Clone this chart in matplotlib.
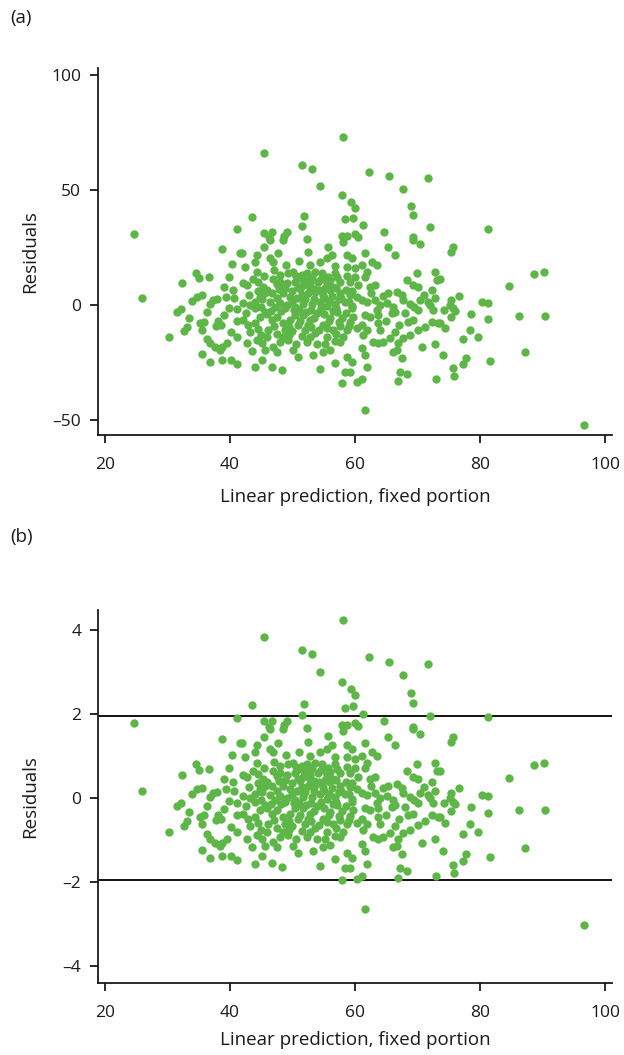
import matplotlib
matplotlib.use("Agg")
import matplotlib.pyplot as plt

plt.rcParams['font.family'] = ['Open Sans', 'DejaVu Sans']

# Linear prediction (fixed portion) and raw residuals
pred = [
 24.6, 26.0, 30.2, 41.1, 38.8, 41.6, 40.4, 34.6, 35.0, 36.7, 39.8, 32.4,
 33.9, 34.8, 35.5, 31.6, 32.2, 33.5, 33.2, 32.7, 36.4, 37.3, 37.9, 39.3, 40.7, 39.9, 41.1, 36.8,
 35.2, 35.8, 35.6, 38.1, 37.8, 38.5, 36.3, 36.8, 37.6, 38.8, 39.5, 40.1, 41.2, 41.1,
 38.4, 35.6, 36.8, 38.7, 40.2, 41.1,
 45.4, 51.6, 53.2, 54.4, 43.6, 51.9, 51.5, 45.4, 46.8, 46.3, 49.1, 48.7, 52.4,
 58.1, 62.3, 65.4, 71.7, 67.6, 58.0, 59.4, 60.0, 69.0, 69.3, 58.4, 59.7, 61.3, 72.0, 64.7,
 57.9, 58.8, 60.0, 60.5, 69.3, 81.2, 75.7, 75.3,
 73.6, 88.7, 90.2, 84.7, 76.6, 75.4, 75.2, 74.3, 76.0, 75.3, 75.7, 80.3, 81.3, 78.5, 81.3,
 86.2, 90.4, 73.6, 74.4, 78.4, 79.6, 77.2, 87.2, 74.0, 77.8, 77.2, 81.6, 75.6, 75.8, 96.6,
 46.4, 48.5, 41.9, 45.4, 44.3, 46.4, 46.9, 47.7, 42.4, 44.0, 44.3, 43.7, 42.1, 42.7, 45.3,
 45.9, 46.9, 48.0, 49.3, 50.1, 49.1, 50.4, 50.9, 42.1, 43.2, 44.8, 45.6, 46.4, 47.5, 47.2,
 48.5, 49.6, 50.7, 49.1, 50.4,
 52.5, 55.7, 58.1, 58.7, 59.5, 54.4, 55.5, 56.3, 52.8, 58.7, 60.0, 51.5, 52.3, 53.6, 54.7,
 55.7, 56.8, 51.7, 52.8, 54.1, 55.5, 56.5, 57.6, 59.2, 60.0, 60.5,
 51.5, 52.5, 53.6, 54.9, 56.3, 57.6, 59.2, 60.3, 51.7, 53.1, 54.4, 55.5, 56.8, 58.4, 59.5,
 69.3, 70.4, 65.3, 66.4, 61.6, 62.7, 63.5, 61.1, 61.9, 61.6, 69.9, 72.8, 68.3, 69.3, 70.1,
 73.1, 62.4, 63.2, 72.3, 65.3, 66.7, 67.5, 61.1, 61.9, 63.2, 64.0, 65.1, 66.1, 67.7, 68.8,
 70.4, 71.7, 72.8, 72.0,
 42.1, 42.9, 44.0, 44.8, 45.6, 46.7, 47.5, 48.5, 49.6, 50.4, 50.9, 42.7, 44.3, 45.1, 45.6,
 46.9, 47.5, 48.0, 48.5, 49.3, 50.1, 50.9, 45.1, 46.7, 48.3, 43.2, 46.1, 48.8,
 51.7, 52.8, 53.9, 54.9, 56.0, 57.1, 52.0, 53.6, 56.5, 57.6, 59.7, 60.3, 57.6, 58.1, 58.7,
 53.3, 54.9, 54.4, 56.8, 58.7, 59.5, 58.4, 59.2, 57.9, 60.3, 52.3,
 61.6, 62.4, 63.7, 63.7, 65.9, 66.4, 68.0, 70.1, 72.5, 61.1, 61.9, 61.3, 62.9, 63.7, 64.5,
 64.0, 65.6, 66.4, 66.9, 67.7, 68.8, 68.5, 69.3, 71.2, 72.3, 73.3, 61.6, 61.1, 66.1, 66.7,
 67.5, 70.7, 72.8, 61.9, 67.2, 68.3, 66.9, 61.1, 73.0, 61.6,
 47.8, 50.0, 52.0, 53.0, 54.5, 55.0, 56.0, 57.0, 48.2, 49.5, 51.0, 52.5, 53.5, 55.8, 57.5,
 58.5, 46.0, 44.0, 43.0, 50.8, 53.0, 49.0, 51.0, 47.0, 56.8, 57.5, 45.0, 47.5, 51.5, 55.5,
 54.0, 56.0, 58.5, 59.5, 62.5, 64.5, 63.5, 65.0, 67.0, 70.0, 71.0, 69.5, 42.5, 43.5, 44.0,
 39.0, 40.5, 39.0,
 44.5, 45.5, 47.5, 48.0, 50.5, 51.8, 53.2, 54.6, 56.0, 57.2, 58.8,
 44.5, 46.8, 48.8, 51.2, 52.8, 54.2, 55.2, 57.0, 59.5,
 44.0, 45.2, 48.0, 50.0, 51.5, 53.5, 55.8, 57.8, 59.0,
 45.0, 46.5, 48.8, 50.2, 52.2, 53.5, 55.0, 56.5, 58.0, 59.2,
 44.5, 47.0, 50.0, 51.2, 53.0, 54.2, 55.5, 57.0, 59.0,
 46.0, 49.5, 52.8, 56.8, 50.5, 55.2,
]

resid = [
 30.7, 3.0, -14.1, 32.9, 24.2, 22.7, 17.8, 14.1, 11.6, 12.0, 12.2, 9.4,
 1.6, 3.6, 4.2, -3.2, -1.9, -5.8, -9.4, -11.4, -3.2, 2.2, 2.5, 3.6, 2.9, -1.2, -1.9, 0.3,
 -8.0, -7.2, -10.9, -6.8, -9.0, -8.7, -14.8, -16.7, -18.4, -18.4, -16.7, -11.9, -6.8, -14.1,
 -19.6, -21.3, -24.9, -23.9, -23.9, -25.7,
 66.2, 60.7, 59.3, 51.9, 38.1, 38.7, 34.3, 31.5, 31.7, 29.4, 31.7, 30.0, 28.8,
 73.2, 58.0, 56.1, 55.1, 50.4, 47.8, 44.8, 42.3, 43.0, 39.0, 37.2, 38.0, 34.6, 33.8, 31.6,
 30.1, 30.1, 30.9, 29.7, 29.4, 33.2, 25.2, 22.9,
 11.3, 13.5, 14.3, 8.4, 3.9, 2.2, 0.0, -2.2, -2.5, -5.4, -1.5, 1.4, 0.7, -3.9, -6.1,
 -4.8, -4.8, -8.0, -10.1, -10.9, -14.1, -14.9, -20.4, -21.9, -22.9, -25.8, -24.3, -27.5, -31.0, -52.2,
 28.3, 28.3, 22.7, 25.1, 21.7, 20.3, 18.8, 22.7, 16.7, 18.8, 14.5, 11.2, 9.4, 8.7, 8.0,
 6.5, 11.2, 10.1, 13.8, 14.5, 9.4, 10.1, 8.0, 0.7, 0.0, 3.6, 5.1, 1.4, 2.9, -0.7,
 5.1, 3.6, 2.9, 0.0, -0.7,
 23.2, 25.3, 27.5, 21.7, 20.3, 18.8, 20.3, 21.7, 17.4, 16.7, 16.0, 13.0, 13.8, 14.5, 13.8,
 12.3, 13.8, 8.7, 9.4, 10.1, 9.4, 8.0, 10.1, 10.1, 12.3, 8.7,
 4.5, 5.0, 5.5, 4.5, 4.0, 5.0, 4.5, 3.5, 0.5, 0.5, 1.5, -0.5, 0.5, 1.5, -0.5,
 28.3, 26.5, 25.1, 21.7, 22.5, 18.8, 17.4, 17.4, 14.5, 12.3, 13.8, 14.5, 10.9, 8.7, 8.0,
 10.9, 8.0, 8.7, 6.5, 5.1, 5.8, 4.3, 2.2, 1.4, 2.0, 0.0, 1.0, -1.0, 2.0, 0.5,
 2.2, 1.4, 2.9, 0.0,
 -6.5, -8.7, -8.0, -5.1, -2.9, -6.5, -5.1, -8.0, -6.5, -4.3, -8.7, -16.7, -15.2, -16.7, -19.6,
 -18.1, -20.3, -16.0, -13.8, -15.2, -19.6, -22.5, -23.9, -26.8, -28.3, -11.7, -10.9, -10.9,
 -4.3, -6.5, -3.5, -8.7, -5.7, -3.0, -10.9, -12.2, -10.9, -9.1, -5.1, -10.1, -16.0, -13.8, -10.9,
 -21.7, -20.3, -28.0, -25.3, -22.5, -24.7, -29.0, -29.0, -33.8, -33.3, -16.0,
 -4.3, -5.1, -4.3, -8.0, -3.6, -2.9, -3.6, -2.2, -2.2, -8.7, -10.9, -13.0, -16.0, -16.7, -16.0,
 -10.9, -14.5, -11.6, -16.7, -14.5, -13.0, -7.2, -6.5, -9.4, -7.2, -8.0, -21.7, -18.8, -20.3, -19.6,
 -23.2, -18.4, -17.0, -27.1, -29.0, -30.0, -32.9, -32.3, -32.2, -45.7,
 7.0, 6.2, 2.5, -2.0, -1.5, 3.0, 6.5, -1.5, -2.5, -9.5, -2.0, -8.5, 7.0, -7.0, 2.5,
 -3.5, -4.0, -1.5, 4.5, 11.5, 11.8, 17.5, 19.0, 15.0, 17.0, -7.5, -13.0, -12.5, -13.5, -14.0,
 -17.0, -19.5, 6.5, -1.5, 5.0, 4.0, -2.0, -7.0, -8.5, -11.0, 4.5, -1.0, -3.5, -20.0, -27.0,
 -4.5, 6.5, 8.0,
 10.0, 12.5, 9.0, 13.0, 12.8, 11.0, 12.2, 11.5, 10.8, 12.0, 12.8,
 6.0, 5.0, 7.5, 6.8, 7.5, 6.5, 7.2, 7.5, 6.0,
 1.5, 2.5, 1.0, 1.5, 2.5, 2.8, 1.8, 3.0, 1.5,
 -1.0, -2.5, -1.5, -2.0, -3.0, -5.5, -4.0, -2.5, -5.5, -7.5,
 -10.5, -9.0, -11.5, -7.0, -9.5, -11.0, -9.8, -12.5, -9.0,
 -14.0, -13.0, -14.0, -15.5, -17.0, -17.0,
]

# Residual standard deviation used for the standardized residuals in panel (b)
resid_sd = 17.3
std_resid = [r / resid_sd for r in resid]

xticks = [20, 40, 60, 80, 100]
yticks_a = [-50, 0, 50, 100]
yticklabels_a = ['\u201350', '0', '50', '100']
yticks_b = [-4, -2, 0, 2, 4]
yticklabels_b = ['\u20134', '\u20132', '0', '2', '4']
ref_lines = [-1.96, 1.96]

green = '#5DB647'
ink = '#1a1a1a'
W, H = 624, 1055
fig = plt.figure(figsize=(W / 100, H / 100), dpi=100)

def style(ax, xlabelpad):
    for s in ['top', 'right']:
        ax.spines[s].set_visible(False)
    for s in ['left', 'bottom']:
        ax.spines[s].set_linewidth(1.3)
        ax.spines[s].set_color(ink)
    ax.tick_params(direction='out', length=6, width=1.3, labelsize=12.5,
                   colors=ink, pad=6)
    ax.tick_params(axis='x', pad=10)
    ax.set_xlim(18.9, 101.1)
    ax.set_xticks(xticks)
    ax.set_xlabel('Linear prediction, fixed portion', fontsize=13.5,
                  labelpad=xlabelpad, color=ink)
    ax.set_ylabel('Residuals', fontsize=13.5, color=ink)
    ax.yaxis.set_label_coords((39 - 98) / 514, 0.5)

ax1 = fig.add_axes([98 / W, 1 - 435 / H, 514 / W, 367 / H])
ax1.scatter(pred, resid, s=36, color=green, linewidths=0, zorder=3)
style(ax1, 11)
ax1.set_ylim(-56.5, 103)
ax1.set_yticks(yticks_a)
ax1.set_yticklabels(yticklabels_a)

ax2 = fig.add_axes([98 / W, 1 - 983 / H, 514 / W, 373 / H])
ax2.scatter(pred, std_resid, s=36, color=green, linewidths=0, zorder=3)
for v in ref_lines:
    ax2.axhline(v, color='black', linewidth=1.3, zorder=2)
style(ax2, 7)
ax2.set_ylim(-4.4, 4.47)
ax2.set_yticks(yticks_b)
ax2.set_yticklabels(yticklabels_b)

fig.text(10 / W, 1 - 18 / H, '(a)', fontsize=13.5, va='center', ha='left', color=ink)
fig.text(10 / W, 1 - 537 / H, '(b)', fontsize=13.5, va='center', ha='left', color=ink)

fig.savefig('out.png', dpi=100)
